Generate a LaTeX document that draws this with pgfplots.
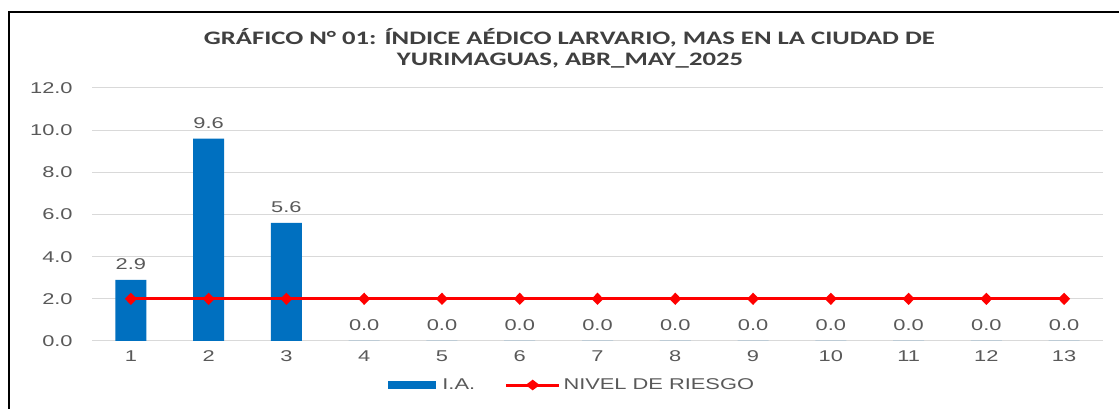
\documentclass[border=0pt]{standalone}
\usepackage{fontspec}
\setmainfont{Liberation Sans}[FakeStretch=1.4]
\newfontfamily\titlefont{Carlito}[FakeStretch=1.4]
\usepackage{pgfplots}
\pgfplotsset{compat=1.18}
\definecolor{barblue}{HTML}{0070C0}
\definecolor{txtgray}{HTML}{595959}
\definecolor{gridgray}{HTML}{D9D9D9}
\definecolor{titlegray}{HTML}{404040}
\newcommand\tfont{\fontsize{11.7}{13}\selectfont}
\pgfplotstableread{
x ia riesgo
1 2.9 2
2 9.6 2
3 5.6 2
4 0 2
5 0 2
6 0 2
7 0 2
8 0 2
9 0 2
10 0 2
11 0 2
12 0 2
13 0 2
}\datatable
\begin{document}
\begin{tikzpicture}
\useasboundingbox (0,0) rectangle (839.25pt,306.75pt);
\fill[white] (0,0) rectangle (839.25pt,306.75pt);
\draw[line width=1.5pt] (6.75pt,0) -- (6.75pt,297.75pt) -- (839.25pt,297.75pt);
\node[titlegray, font=\titlefont\bfseries\fontsize{14.3}{16}\selectfont] at (427pt,278.25pt) {GRÁFICO N° 01: ÍNDICE AÉDICO LARVARIO, MAS EN LA CIUDAD DE};
\node[titlegray, font=\titlefont\bfseries\fontsize{14.3}{16}\selectfont] at (427.5pt,261.5pt) {YURIMAGUAS, ABR\_MAY\_2025};
\begin{axis}[
  at={(69pt,51pt)}, anchor=south west,
  scale only axis, width=758.25pt, height=189.75pt,
  xmin=0.5, xmax=13.5, ymin=0, ymax=12,
  xtick={1,...,13}, ytick={0,2,...,12},
  ymajorgrids, grid style={gridgray, line width=0.75pt},
  axis line style={draw=none},
  major tick length=0pt,
  tick label style={txtgray, font=\tfont},
  yticklabel style={xshift=-11pt, /pgf/number format/fixed, /pgf/number format/fixed zerofill, /pgf/number format/precision=1, /pgf/number format/assume math mode=true},
  xticklabel style={yshift=-4pt, /pgf/number format/assume math mode=true},
  legend style={at={(0.475,-0.174)}, anchor=center, draw=none, fill=none, legend columns=2,
    font=\tfont, text=txtgray,
    /tikz/every even column/.append style={column sep=20pt}},
  clip=false,
]
\addplot[ybar, bar width=23.25pt, fill=barblue, draw=none,
  nodes near coords, 
  every node near coord/.append style={txtgray, font=\tfont, anchor=south, yshift=4pt,
    /pgf/number format/fixed, /pgf/number format/fixed zerofill, /pgf/number format/precision=1, /pgf/number format/assume math mode=true},
  legend image code/.code={\fill[barblue] (0pt,-3pt) rectangle (36pt,3pt);}
] table[x=x, y=ia] {\datatable};
\addlegendentry{\hspace{3pt}I.A.}
\addplot[red, line width=2.25pt, mark=diamond*, mark size=3pt, mark options={solid, xscale=1.3},
  legend image code/.code={\draw[red, line width=2.25pt] (0pt,0pt) -- (40pt,0pt);
    \fill[red] (20pt,2.6pt) -- (23.4pt,0pt) -- (20pt,-2.6pt) -- (16.6pt,0pt) -- cycle;}
] table[x=x, y=riesgo] {\datatable};
\addlegendentry{NIVEL DE RIESGO}
\end{axis}
\end{tikzpicture}
\end{document}
